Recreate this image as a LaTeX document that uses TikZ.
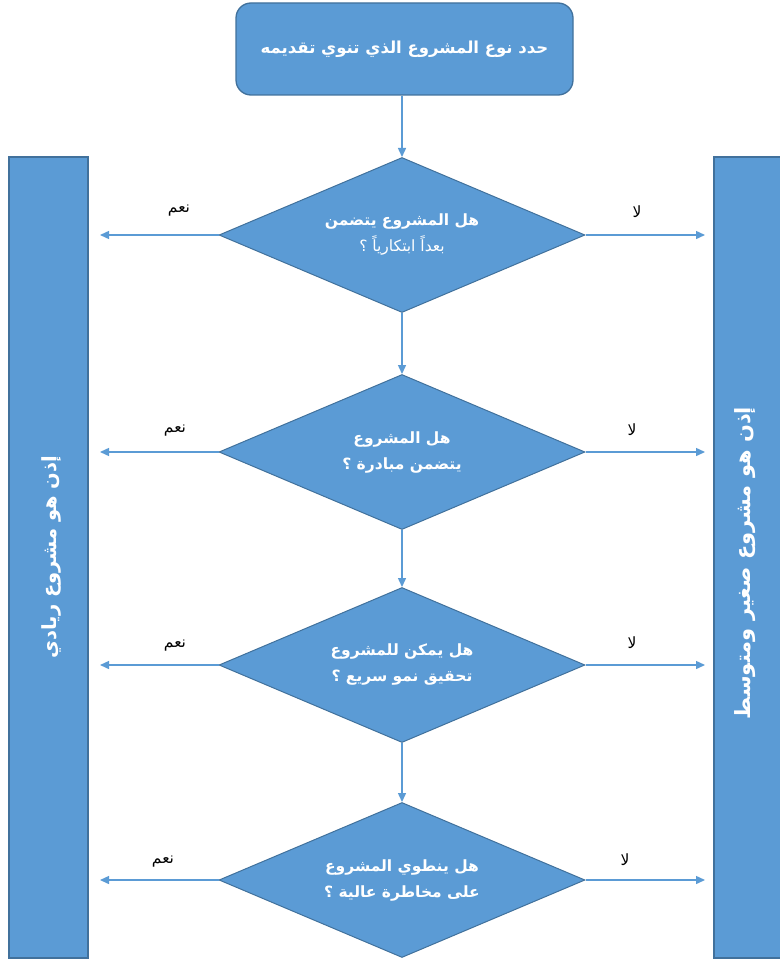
\documentclass[tikz,border=0pt]{standalone}
\usepackage{fontspec}
\usetikzlibrary{arrows.meta,shapes.geometric}
\TeXXeTstate=1
\newfontfamily\arabicfont[Script=Arabic]{DejaVu Sans}
\definecolor{boxfill}{RGB}{91,155,213}
\definecolor{boxline}{RGB}{65,113,156}
\definecolor{arrowc}{RGB}{91,155,213}
\begin{document}
\begin{tikzpicture}[x=1pt,y=-1pt,
  topbox/.style={draw=boxline,fill=boxfill,line width=1.3pt,rounded corners=15pt,
    minimum width=337pt,minimum height=92pt,inner sep=0pt,text=white,
    font=\arabicfont\bfseries\fontsize{16.5}{20}\selectfont},
  dia/.style={diamond,shape aspect=2.36,draw=boxline,fill=boxfill,line width=1pt,
    minimum width=366pt,minimum height=155pt,inner sep=0pt,text=white,align=center,
    font=\arabicfont\bfseries\fontsize{15.5}{26}\selectfont},
  bar/.style={draw=boxline,fill=boxfill,line width=1.3pt,minimum width=801pt,
    minimum height=79pt,inner sep=0pt,rotate=90},
  bartext/.style={text=white,inner sep=0pt,rotate=90,
    font=\arabicfont\bfseries\fontsize{19.5}{22}\selectfont},
  arr/.style={draw=arrowc,line width=1.4pt,-{Triangle[length=9pt,width=8pt]}},
  lbl/.style={text=black,inner sep=0pt,font=\arabicfont\fontsize{15.5}{18}\selectfont}]
\useasboundingbox (0,0) rectangle (779,960);
\node[bar] (yes) at (48.5,557.5) {};
\node[bartext] (yestext) at (51,557) {\beginR إذن هو مشروع ريادي\endR};
\node[bar] (no) at (753.5,557.5) {};
\node[bartext,font=\arabicfont\bfseries\fontsize{21}{24}\selectfont] (notext) at (745,563) {\beginR إذن هو مشروع صغير ومتوسط\endR};
\node[topbox] (top) at (404.5,49) {\beginR حدد نوع المشروع الذي تنوي تقديمه\endR};
\node[dia] (d1) at (402,235) {\beginR هل المشروع يتضمن\endR\\{\mdseries\beginR بعداً ابتكارياً ؟\endR}};
\node[dia] (d2) at (402,452) {\beginR هل المشروع\endR\\\beginR يتضمن مبادرة ؟\endR};
\node[dia] (d3) at (402,665) {\beginR هل يمكن للمشروع\endR\\\beginR تحقيق نمو سريع ؟\endR};
\node[dia] (d4) at (402,880) {\beginR هل ينطوي المشروع\endR\\\beginR على مخاطرة عالية ؟\endR};
\draw[arr] (top.south -| d1.north) -- (d1.north);
\draw[arr] (d1.south) -- (d2.north);
\draw[arr] (d2.south) -- (d3.north);
\draw[arr] (d3.south) -- (d4.north);
\foreach \d/\y in {d1/235,d2/452,d3/665,d4/880}{
  \coordinate (\d l) at (100,\y);
  \coordinate (\d r) at (705,\y);
  \draw[arr] (\d.west) -- (\d l);
  \draw[arr] (\d.east) -- (\d r);
}
\node[lbl] (y1) at (179,211) {\beginR نعم\endR};
\node[lbl] (n1) at (637,212) {\beginR لا\endR};
\node[lbl] (y2) at (175,431) {\beginR نعم\endR};
\node[lbl] (n2) at (632,430) {\beginR لا\endR};
\node[lbl] (y3) at (175,646) {\beginR نعم\endR};
\node[lbl] (n3) at (632,643) {\beginR لا\endR};
\node[lbl] (y4) at (163,862) {\beginR نعم\endR};
\node[lbl] (n4) at (625,860) {\beginR لا\endR};
\end{tikzpicture}
\end{document}
